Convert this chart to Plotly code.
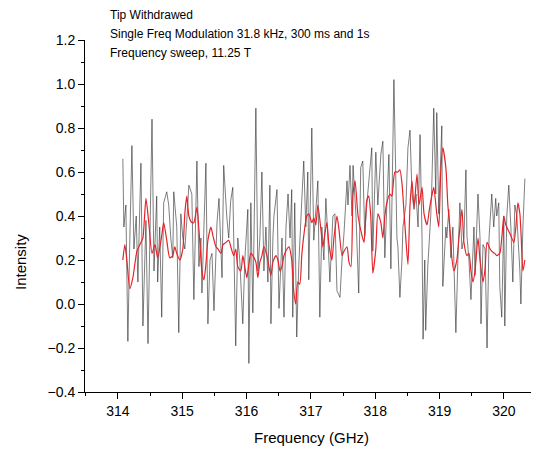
import plotly.graph_objects as go

# raw signal (black)
raw_freq = [314.078, 314.094, 314.125, 314.156, 314.187, 314.219, 314.250, 314.286, 314.312, 314.359,
            314.390, 314.437, 314.469, 314.500, 314.531, 314.562, 314.604, 314.619, 314.651, 314.682,
            314.713, 314.760, 314.791, 314.823, 314.854, 314.869, 314.916, 314.947, 314.979, 315.010,
            315.041, 315.072, 315.104, 315.150, 315.182, 315.229, 315.260, 315.291, 315.307, 315.338,
            315.369, 315.400, 315.432, 315.463, 315.494, 315.541, 315.572, 315.619, 315.645, 315.692,
            315.723, 315.754, 315.786, 315.832, 315.864, 315.895, 315.942, 315.973, 316.020, 316.036,
            316.067, 316.098, 316.145, 316.176, 316.207, 316.239, 316.270, 316.301, 316.332, 316.363,
            316.379, 316.410, 316.426, 316.473, 316.504, 316.551, 316.582, 316.613, 316.645, 316.676,
            316.702, 316.718, 316.749, 316.780, 316.811, 316.858, 316.889, 316.921, 316.952, 316.967,
            317.014, 317.045, 317.077, 317.108, 317.139, 317.170, 317.202, 317.233, 317.264, 317.295,
            317.342, 317.373, 317.405, 317.452, 317.483, 317.514, 317.561, 317.576, 317.608, 317.639,
            317.655, 317.701, 317.743, 317.774, 317.806, 317.837, 317.868, 317.899, 317.946, 317.962,
            318.009, 318.040, 318.087, 318.118, 318.149, 318.180, 318.212, 318.243, 318.290, 318.337,
            318.352, 318.383, 318.415, 318.430, 318.477, 318.508, 318.540, 318.571, 318.602, 318.633,
            318.665, 318.696, 318.727, 318.743, 318.769, 318.784, 318.816, 318.862, 318.878, 318.909,
            318.940, 318.956, 318.987, 319.034, 319.050, 319.097, 319.112, 319.143, 319.175, 319.206,
            319.253, 319.284, 319.315, 319.347, 319.378, 319.409, 319.425, 319.456, 319.487, 319.534,
            319.550, 319.596, 319.628, 319.643, 319.674, 319.706, 319.737, 319.768, 319.810, 319.841,
            319.872, 319.888, 319.919, 319.935, 319.966, 319.997, 320.013, 320.044, 320.075, 320.107,
            320.138, 320.169, 320.200, 320.247, 320.263, 320.294, 320.325]
raw_int = [0.66, 0.35, 0.45, -0.17, 0.30, 0.72, 0.25, 0.40, 0.10, 0.64,
           -0.10, 0.38, -0.18, 0.30, 0.84, 0.15, 0.49, 0.10, 0.35, -0.06,
           0.46, 0.51, 0.45, 0.30, 0.21, 0.51, 0.35, -0.13, 0.41, 0.30,
           0.25, 0.38, 0.54, 0.50, 0.02, 0.65, 0.17, 0.30, 0.05, 0.35,
           0.64, -0.09, 0.20, 0.23, -0.03, 0.37, 0.48, 0.12, 0.63, 0.40,
           0.30, 0.47, 0.53, -0.19, 0.30, 0.20, -0.09, 0.20, 0.43, -0.27,
           0.46, -0.04, 0.89, 0.15, 0.30, 0.60, 0.15, 0.35, 0.10, 0.54,
           -0.09, 0.30, 0.40, 0.52, -0.02, 0.30, -0.06, 0.35, 0.50, 0.30,
           0.52, -0.06, 0.46, -0.15, 0.17, 0.47, 0.65, 0.35, 0.60, 0.11,
           0.80, 0.29, 0.45, 0.56, -0.06, 0.35, 0.20, 0.48, 0.30, 0.10,
           0.40, 0.41, 0.06, 0.03, 0.20, 0.32, 0.56, 0.45, 0.63, 0.40,
           0.63, 0.40, 0.05, 0.62, 0.65, 0.31, 0.45, 0.56, 0.71, 0.24,
           0.69, 0.45, 0.68, 0.74, 0.21, 0.45, 0.68, 0.16, 1.02, 0.30,
           0.26, 0.03, 0.20, 0.35, 0.45, 0.71, 0.79, 0.50, 0.43, 0.50,
           0.35, 0.77, 0.30, -0.16, 0.20, -0.12, 0.17, 0.40, 0.53, 0.89,
           0.50, 0.87, 0.41, 0.81, 0.08, 0.35, 0.30, 0.43, 0.21, 0.35,
           -0.13, 0.20, 0.46, 0.25, 0.30, 0.61, 0.31, 0.20, 0.02, 0.35,
           0.13, 0.50, 0.30, -0.09, 0.27, 0.25, -0.20, 0.30, 0.50, 0.35,
           0.48, 0.40, 0.46, 0.08, -0.06, 0.40, -0.10, 0.40, 0.54, 0.35,
           0.10, 0.45, 0.40, 0.15, 0.00, 0.35, 0.57]

# smoothed signal (red)
smooth_freq = [314.078, 314.109, 314.140, 314.187, 314.234, 314.297, 314.359, 314.390, 314.437, 314.484,
               314.531, 314.578, 314.619, 314.682, 314.713, 314.760, 314.807, 314.854, 314.885, 314.916,
               314.963, 315.010, 315.041, 315.072, 315.104, 315.150, 315.182, 315.229, 315.260, 315.307,
               315.338, 315.369, 315.400, 315.447, 315.478, 315.525, 315.557, 315.603, 315.635, 315.681,
               315.723, 315.765, 315.801, 315.832, 315.864, 315.911, 315.942, 315.973, 316.004, 316.036,
               316.067, 316.098, 316.145, 316.176, 316.207, 316.239, 316.270, 316.317, 316.348, 316.379,
               316.410, 316.457, 316.488, 316.520, 316.551, 316.582, 316.629, 316.660, 316.702, 316.733,
               316.764, 316.796, 316.827, 316.858, 316.889, 316.936, 316.967, 317.014, 317.045, 317.077,
               317.108, 317.155, 317.186, 317.217, 317.249, 317.280, 317.327, 317.358, 317.405, 317.436,
               317.483, 317.514, 317.561, 317.592, 317.623, 317.655, 317.686, 317.733, 317.795, 317.826,
               317.868, 317.899, 317.930, 317.962, 318.009, 318.040, 318.087, 318.118, 318.149, 318.180,
               318.227, 318.258, 318.305, 318.352, 318.383, 318.415, 318.446, 318.477, 318.508, 318.540,
               318.571, 318.602, 318.649, 318.680, 318.727, 318.758, 318.805, 318.836, 318.878, 318.909,
               318.956, 318.987, 319.019, 319.050, 319.097, 319.128, 319.159, 319.190, 319.222, 319.268,
               319.300, 319.347, 319.378, 319.425, 319.456, 319.487, 319.518, 319.550, 319.596, 319.628,
               319.674, 319.706, 319.737, 319.784, 319.810, 319.857, 319.888, 319.935, 319.966, 319.997,
               320.028, 320.075, 320.107, 320.153, 320.185, 320.216, 320.247, 320.268, 320.294, 320.325]
smooth_int = [0.20, 0.27, 0.20, 0.07, 0.12, 0.24, 0.28, 0.30, 0.48, 0.36,
              0.23, 0.27, 0.21, 0.31, 0.37, 0.29, 0.21, 0.22, 0.26, 0.23,
              0.20, 0.25, 0.41, 0.49, 0.40, 0.37, 0.37, 0.44, 0.34, 0.15,
              0.11, 0.18, 0.29, 0.35, 0.31, 0.26, 0.25, 0.23, 0.27, 0.28,
              0.29, 0.25, 0.22, 0.25, 0.17, 0.15, 0.22, 0.17, 0.12, 0.18,
              0.23, 0.22, 0.19, 0.12, 0.19, 0.22, 0.26, 0.22, 0.17, 0.13,
              0.19, 0.22, 0.20, 0.15, 0.17, 0.22, 0.25, 0.26, 0.20, 0.06,
              0.00, 0.10, 0.09, 0.22, 0.31, 0.40, 0.41, 0.37, 0.39, 0.36,
              0.45, 0.34, 0.26, 0.32, 0.37, 0.27, 0.20, 0.30, 0.40, 0.34,
              0.22, 0.24, 0.26, 0.19, 0.17, 0.50, 0.56, 0.40, 0.31, 0.28,
              0.47, 0.49, 0.40, 0.14, 0.25, 0.41, 0.37, 0.30, 0.40, 0.46,
              0.50, 0.49, 0.60, 0.60, 0.61, 0.55, 0.42, 0.29, 0.18, 0.45,
              0.56, 0.44, 0.59, 0.45, 0.53, 0.41, 0.36, 0.42, 0.49, 0.53,
              0.41, 0.35, 0.61, 0.71, 0.62, 0.45, 0.35, 0.21, 0.15, 0.20,
              0.30, 0.43, 0.28, 0.22, 0.23, 0.15, 0.10, 0.15, 0.30, 0.20,
              0.10, 0.16, 0.28, 0.25, 0.24, 0.23, 0.22, 0.23, 0.30, 0.40,
              0.36, 0.33, 0.31, 0.28, 0.35, 0.46, 0.41, 0.30, 0.15, 0.20]

notes = ["Tip Withdrawed",
         "Single Freq Modulation 31.8 kHz, 300 ms and 1s",
         "Frequency sweep, 11.25 T"]

fig = go.Figure()
fig.add_trace(go.Scatter(
    x=raw_freq, y=raw_int, mode='lines',
    line=dict(color='rgba(40,40,40,0.75)', width=0.8),
    showlegend=False
))
fig.add_trace(go.Scatter(
    x=smooth_freq, y=smooth_int, mode='lines',
    line=dict(color='#e3242b', width=1.2, shape='spline', smoothing=0.6),
    showlegend=False
))

for i, txt in enumerate(notes):
    fig.add_annotation(
        text=txt, xref='paper', yref='paper',
        x=0.051, y=1.071 - i * 0.054,
        xanchor='left', yanchor='middle', showarrow=False,
        font=dict(size=12, color='black')
    )

# axis titles placed as in the original (y title sits low)
fig.add_annotation(text='Intensity', xref='paper', yref='paper',
                   x=-0.146, y=0.369, textangle=-90, showarrow=False,
                   xanchor='center', yanchor='middle',
                   font=dict(size=15, color='black'))
fig.add_annotation(text='Frequency (GHz)', xref='paper', yref='paper',
                   x=0.507, y=-0.128, showarrow=False,
                   xanchor='center', yanchor='middle',
                   font=dict(size=15, color='black'))

fig.update_layout(
    width=547, height=452,
    margin=dict(l=77, r=24, t=32, b=68),
    plot_bgcolor='white', paper_bgcolor='white',
    font=dict(family='Liberation Sans, Arial, sans-serif', color='black'),
    xaxis=dict(
        range=[313.49, 320.42],
        tick0=314, dtick=1,
        ticks='outside', ticklen=6, tickwidth=1, tickcolor='black',
        minor=dict(dtick=0.5, ticks='outside', ticklen=3, tickcolor='black'),
        showline=True, linecolor='black', linewidth=1,
        showgrid=False, zeroline=False,
        tickfont=dict(size=14)
    ),
    yaxis=dict(
        range=[-0.4, 1.2],
        tick0=-0.4, dtick=0.2, tickformat='.1f',
        ticks='outside', ticklen=6, tickwidth=1, tickcolor='black',
        minor=dict(dtick=0.1, ticks='outside', ticklen=3, tickcolor='black'),
        showline=True, linecolor='black', linewidth=1,
        showgrid=False, zeroline=False,
        tickfont=dict(size=14)
    )
)

fig.write_html("out.html")
